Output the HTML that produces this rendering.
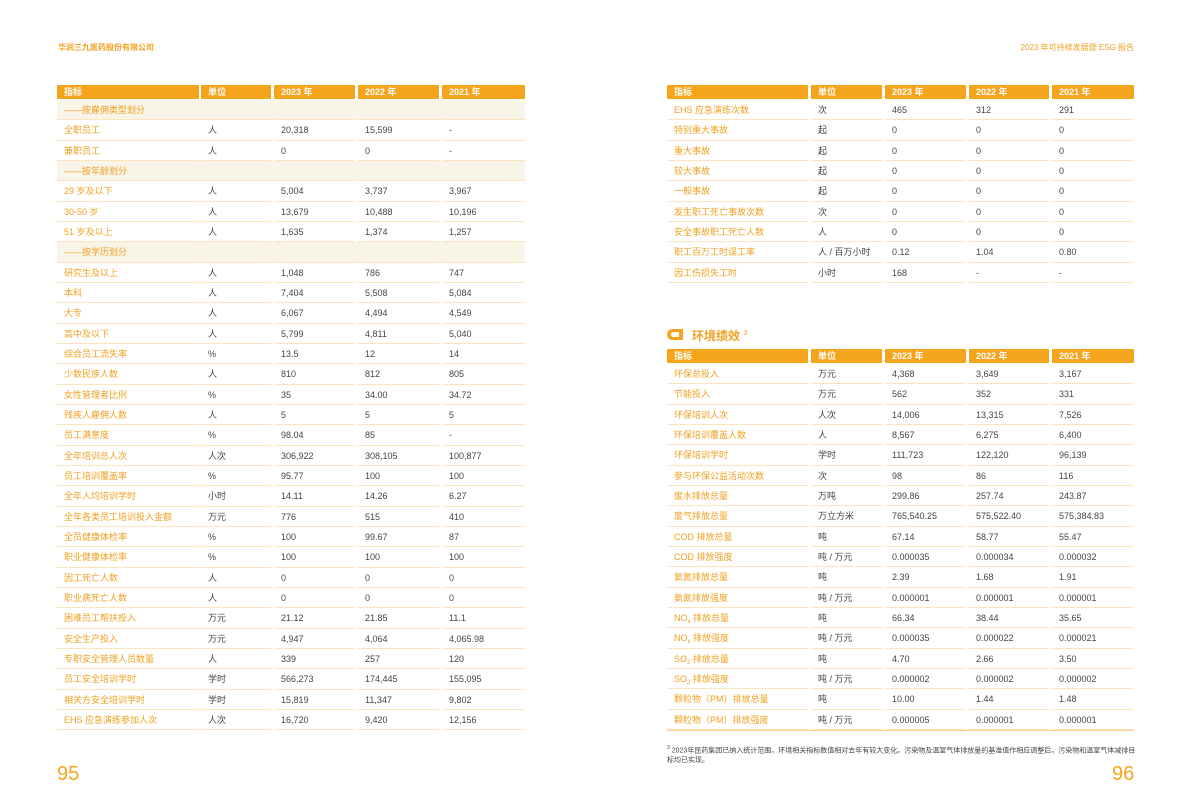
<!DOCTYPE html>
<html><head><meta charset="utf-8"><style>
body{margin:0;width:1192px;height:808px;background:#fff;position:relative;overflow:hidden;font-family:"Liberation Sans","Noto Sans CJK SC",sans-serif;}
.t{position:absolute;}
.r{display:flex;height:20.33px;box-sizing:border-box;}
.r span{box-sizing:border-box;height:100%;border-bottom:1px solid #fde4bc;padding-left:7px;font-size:9px;line-height:20px;color:#444;white-space:nowrap;}
.r span:first-child{color:#f0a020;}
.h{height:14px;margin-bottom:1px}
.h span{background:#f5a51c;color:#fff;border:none;line-height:14px;font-weight:bold;font-size:9px}
.h span:first-child{color:#fff}
.s{background:#f9f4e8}
.L span:nth-child(1){width:142px;margin-right:2px}
.L span:nth-child(2){width:70px;margin-right:3px}
.L span:nth-child(3){width:81px;margin-right:3px}
.L span:nth-child(4){width:81px;margin-right:3px}
.L span:nth-child(5){width:83px}
.R span:nth-child(1){width:141px;margin-right:3px}
.R span:nth-child(2){width:71px;margin-right:3px}
.R span:nth-child(3){width:81px;margin-right:3px}
.R span:nth-child(4){width:80px;margin-right:3px}
.R span:nth-child(5){width:82px}
sub{font-size:6px;vertical-align:-2px}
</style></head><body>
<div class="t" style="left:58px;top:42px;font-size:8px;font-weight:bold;color:#f0a020">华润三九医药股份有限公司</div>
<div class="t" style="right:58px;top:42px;font-size:8px;color:#f0a020">2023 年可持续发展暨 ESG 报告</div>
<div class="t" style="left:57px;top:763px;font-size:20px;color:#f5a51c">95</div>
<div class="t" style="left:1112px;top:763px;font-size:20px;color:#f5a51c">96</div>

<div class="t L" style="left:57px;top:85px">
<div class="r h"><span>指标</span><span>单位</span><span>2023 年</span><span>2022 年</span><span>2021 年</span></div>
<div class="r s"><span>——按雇佣类型划分</span><span></span><span></span><span></span><span></span></div>
<div class="r"><span>全职员工</span><span>人</span><span>20,318</span><span>15,599</span><span>-</span></div>
<div class="r"><span>兼职员工</span><span>人</span><span>0</span><span>0</span><span>-</span></div>
<div class="r s"><span>——按年龄划分</span><span></span><span></span><span></span><span></span></div>
<div class="r"><span>29 岁及以下</span><span>人</span><span>5,004</span><span>3,737</span><span>3,967</span></div>
<div class="r"><span>30-50 岁</span><span>人</span><span>13,679</span><span>10,488</span><span>10,196</span></div>
<div class="r"><span>51 岁及以上</span><span>人</span><span>1,635</span><span>1,374</span><span>1,257</span></div>
<div class="r s"><span>——按学历划分</span><span></span><span></span><span></span><span></span></div>
<div class="r"><span>研究生及以上</span><span>人</span><span>1,048</span><span>786</span><span>747</span></div>
<div class="r"><span>本科</span><span>人</span><span>7,404</span><span>5,508</span><span>5,084</span></div>
<div class="r"><span>大专</span><span>人</span><span>6,067</span><span>4,494</span><span>4,549</span></div>
<div class="r"><span>高中及以下</span><span>人</span><span>5,799</span><span>4,811</span><span>5,040</span></div>
<div class="r"><span>综合员工流失率</span><span>%</span><span>13.5</span><span>12</span><span>14</span></div>
<div class="r"><span>少数民族人数</span><span>人</span><span>810</span><span>812</span><span>805</span></div>
<div class="r"><span>女性管理者比例</span><span>%</span><span>35</span><span>34.00</span><span>34.72</span></div>
<div class="r"><span>残疾人雇佣人数</span><span>人</span><span>5</span><span>5</span><span>5</span></div>
<div class="r"><span>员工满意度</span><span>%</span><span>98.04</span><span>85</span><span>-</span></div>
<div class="r"><span>全年培训总人次</span><span>人次</span><span>306,922</span><span>308,105</span><span>100,877</span></div>
<div class="r"><span>员工培训覆盖率</span><span>%</span><span>95.77</span><span>100</span><span>100</span></div>
<div class="r"><span>全年人均培训学时</span><span>小时</span><span>14.11</span><span>14.26</span><span>6.27</span></div>
<div class="r"><span>全年各类员工培训投入金额</span><span>万元</span><span>776</span><span>515</span><span>410</span></div>
<div class="r"><span>全员健康体检率</span><span>%</span><span>100</span><span>99.67</span><span>87</span></div>
<div class="r"><span>职业健康体检率</span><span>%</span><span>100</span><span>100</span><span>100</span></div>
<div class="r"><span>因工死亡人数</span><span>人</span><span>0</span><span>0</span><span>0</span></div>
<div class="r"><span>职业病死亡人数</span><span>人</span><span>0</span><span>0</span><span>0</span></div>
<div class="r"><span>困难员工帮扶投入</span><span>万元</span><span>21.12</span><span>21.85</span><span>11.1</span></div>
<div class="r"><span>安全生产投入</span><span>万元</span><span>4,947</span><span>4,064</span><span>4,065.98</span></div>
<div class="r"><span>专职安全管理人员数量</span><span>人</span><span>339</span><span>257</span><span>120</span></div>
<div class="r"><span>员工安全培训学时</span><span>学时</span><span>566,273</span><span>174,445</span><span>155,095</span></div>
<div class="r"><span>相关方安全培训学时</span><span>学时</span><span>15,819</span><span>11,347</span><span>9,802</span></div>
<div class="r"><span>EHS 应急演练参加人次</span><span>人次</span><span>16,720</span><span>9,420</span><span>12,156</span></div>
</div>

<div class="t R" style="left:667px;top:85px">
<div class="r h"><span>指标</span><span>单位</span><span>2023 年</span><span>2022 年</span><span>2021 年</span></div>
<div class="r"><span>EHS 应急演练次数</span><span>次</span><span>465</span><span>312</span><span>291</span></div>
<div class="r"><span>特别重大事故</span><span>起</span><span>0</span><span>0</span><span>0</span></div>
<div class="r"><span>重大事故</span><span>起</span><span>0</span><span>0</span><span>0</span></div>
<div class="r"><span>较大事故</span><span>起</span><span>0</span><span>0</span><span>0</span></div>
<div class="r"><span>一般事故</span><span>起</span><span>0</span><span>0</span><span>0</span></div>
<div class="r"><span>发生职工死亡事故次数</span><span>次</span><span>0</span><span>0</span><span>0</span></div>
<div class="r"><span>安全事故职工死亡人数</span><span>人</span><span>0</span><span>0</span><span>0</span></div>
<div class="r"><span>职工百万工时误工率</span><span>人 / 百万小时</span><span>0.12</span><span>1.04</span><span>0.80</span></div>
<div class="r"><span>因工伤损失工时</span><span>小时</span><span>168</span><span>-</span><span>-</span></div>
</div>

<div class="t" style="left:667px;top:329px;width:16px;height:11px">
<div style="position:absolute;left:0;top:0;width:16px;height:11px;background:#f5a51c;border-radius:6px 0 0 6px"></div>
<div style="position:absolute;left:4px;top:3px;width:8px;height:5px;background:#fff;border-radius:3px 0 0 3px"></div>
</div>
<div class="t" style="left:692px;top:327px;font-size:12px;font-weight:bold;color:#f0a020">环境绩效 <sup style="font-size:7px;font-weight:normal">3</sup></div>

<div class="t R" style="left:667px;top:349px">
<div class="r h"><span>指标</span><span>单位</span><span>2023 年</span><span>2022 年</span><span>2021 年</span></div>
<div class="r"><span>环保总投入</span><span>万元</span><span>4,368</span><span>3,649</span><span>3,167</span></div>
<div class="r"><span>节能投入</span><span>万元</span><span>562</span><span>352</span><span>331</span></div>
<div class="r"><span>环保培训人次</span><span>人次</span><span>14,006</span><span>13,315</span><span>7,526</span></div>
<div class="r"><span>环保培训覆盖人数</span><span>人</span><span>8,567</span><span>6,275</span><span>6,400</span></div>
<div class="r"><span>环保培训学时</span><span>学时</span><span>111,723</span><span>122,120</span><span>96,139</span></div>
<div class="r"><span>参与环保公益活动次数</span><span>次</span><span>98</span><span>86</span><span>116</span></div>
<div class="r"><span>废水排放总量</span><span>万吨</span><span>299.86</span><span>257.74</span><span>243.87</span></div>
<div class="r"><span>废气排放总量</span><span>万立方米</span><span>765,540.25</span><span>575,522.40</span><span>575,384.83</span></div>
<div class="r"><span>COD 排放总量</span><span>吨</span><span>67.14</span><span>58.77</span><span>55.47</span></div>
<div class="r"><span>COD 排放强度</span><span>吨 / 万元</span><span>0.000035</span><span>0.000034</span><span>0.000032</span></div>
<div class="r"><span>氨氮排放总量</span><span>吨</span><span>2.39</span><span>1.68</span><span>1.91</span></div>
<div class="r"><span>氨氮排放强度</span><span>吨 / 万元</span><span>0.000001</span><span>0.000001</span><span>0.000001</span></div>
<div class="r"><span>NO<sub>x</sub> 排放总量</span><span>吨</span><span>66.34</span><span>38.44</span><span>35.65</span></div>
<div class="r"><span>NO<sub>x</sub> 排放强度</span><span>吨 / 万元</span><span>0.000035</span><span>0.000022</span><span>0.000021</span></div>
<div class="r"><span>SO<sub>2</sub> 排放总量</span><span>吨</span><span>4.70</span><span>2.66</span><span>3.50</span></div>
<div class="r"><span>SO<sub>2</sub> 排放强度</span><span>吨 / 万元</span><span>0.000002</span><span>0.000002</span><span>0.000002</span></div>
<div class="r"><span>颗粒物（PM）排放总量</span><span>吨</span><span>10.00</span><span>1.44</span><span>1.48</span></div>
<div class="r"><span>颗粒物（PM）排放强度</span><span>吨 / 万元</span><span>0.000005</span><span>0.000001</span><span>0.000001</span></div>
</div>
<div class="t" style="left:667px;top:730px;width:467px;height:1px;background:#fbd08a"></div>
<div class="t" style="left:667px;top:743px;width:470px;font-size:7px;line-height:10px;color:#444"><sup style="font-size:5px">3</sup> 2023年昆药集团已纳入统计范围，环境相关指标数值相对去年有较大变化。污染物及温室气体排放量的基准值作相应调整后，污染物和温室气体减排目标均已实现。</div>
</body></html>
